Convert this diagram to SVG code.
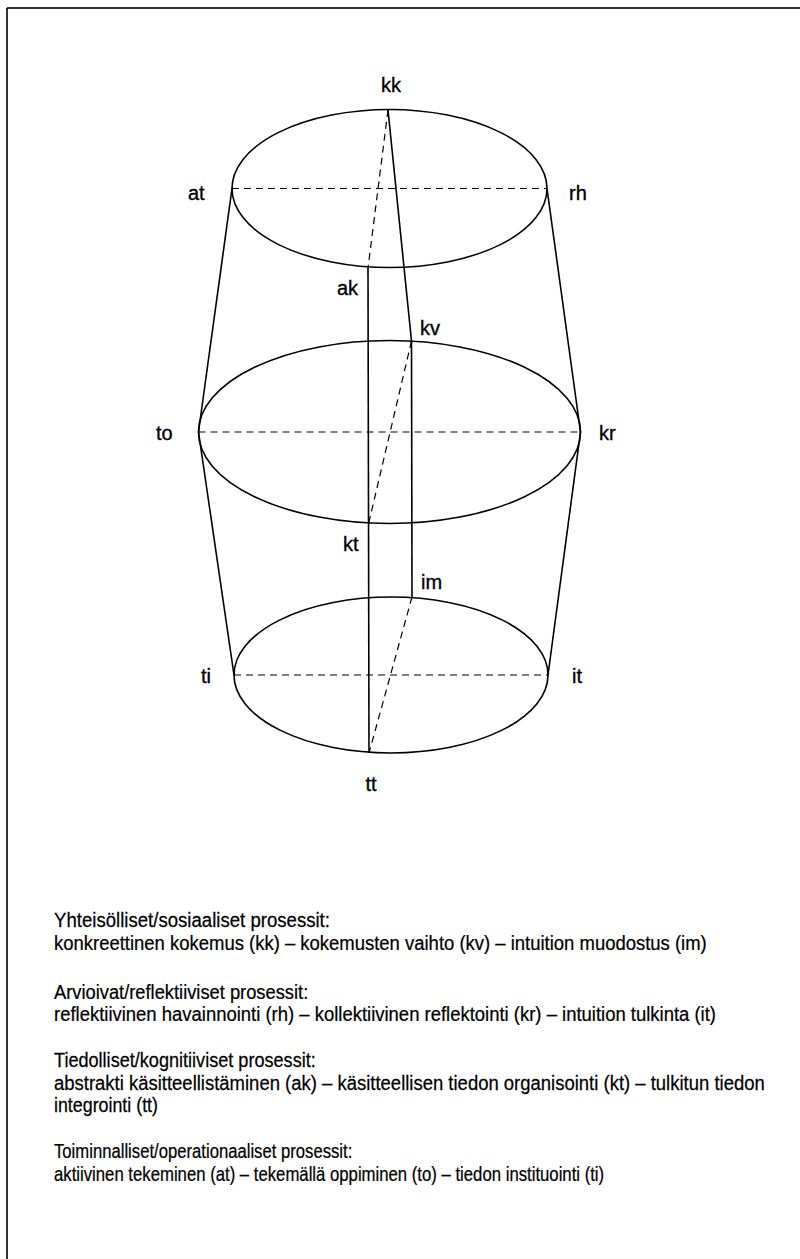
<svg xmlns="http://www.w3.org/2000/svg" width="800" height="1259" viewBox="0 0 800 1259">
<style>
.ln{fill:none;stroke:#000;stroke-width:1.6}
.ds{fill:none;stroke:#000;stroke-width:1.2;stroke-dasharray:7 5}
.lb{font-family:"Liberation Sans",Arial,sans-serif;font-size:20px;fill:#000;stroke:#000;stroke-width:0.35}
.lg{font-family:"Liberation Sans",Arial,sans-serif;font-size:21px;fill:#000;stroke:#000;stroke-width:0.25}
</style>
<rect width="800" height="1259" fill="#fff"/>
<g id="frame">
<line x1="7" y1="8" x2="800" y2="8" stroke="#333" stroke-width="1.8"/>
<line x1="7" y1="8" x2="7" y2="1259" stroke="#000" stroke-width="1.6"/>
</g>
<g id="ellipses">
<ellipse id="top" class="ln" cx="389.5" cy="188.5" rx="157.5" ry="79"/>
<ellipse id="middle" class="ln" cx="389.5" cy="432" rx="191" ry="91.5"/>
<ellipse id="bottom" class="ln" cx="391" cy="675" rx="157" ry="78"/>
</g>
<g id="connectors">
<line class="ln" x1="232" y1="188.5" x2="198.5" y2="432"/>
<line class="ln" x1="198.5" y1="432" x2="234" y2="675"/>
<line class="ln" x1="547" y1="188.5" x2="580.5" y2="432"/>
<line class="ln" x1="580.5" y1="432" x2="548" y2="675"/>
<line class="ln" x1="388" y1="110" x2="411.5" y2="341"/>
<line class="ln" x1="368" y1="268" x2="369" y2="753"/>
<line class="ln" x1="411.5" y1="341" x2="412" y2="597"/>
<line class="ds" x1="232" y1="188.5" x2="547" y2="188.5"/>
<line class="ds" x1="198.5" y1="432" x2="580.5" y2="432"/>
<line class="ds" x1="234" y1="675" x2="548" y2="675"/>
<line class="ds" x1="388" y1="110" x2="368" y2="268"/>
<line class="ds" x1="411.5" y1="341" x2="368.5" y2="524"/>
<line class="ds" x1="412" y1="597" x2="369" y2="753"/>
</g>
<g id="node-kk"><text class="lb" x="391" y="92" text-anchor="middle">kk</text></g>
<g id="node-at"><text class="lb" x="188" y="200">at</text></g>
<g id="node-rh"><text class="lb" x="569" y="200">rh</text></g>
<g id="node-ak"><text class="lb" x="337" y="295">ak</text></g>
<g id="node-kv"><text class="lb" x="420" y="335">kv</text></g>
<g id="node-to"><text class="lb" x="156" y="440">to</text></g>
<g id="node-kr"><text class="lb" x="599" y="440">kr</text></g>
<g id="node-kt"><text class="lb" x="343" y="551">kt</text></g>
<g id="node-im"><text class="lb" x="421" y="589">im</text></g>
<g id="node-ti"><text class="lb" x="201" y="683">ti</text></g>
<g id="node-it"><text class="lb" x="572" y="683">it</text></g>
<g id="node-tt"><text class="lb" x="371" y="791" text-anchor="middle">tt</text></g>
<g id="legend">
<text class="lg" transform="translate(54,927) scale(0.886,1)">Yhteisölliset/sosiaaliset prosessit:</text>
<text class="lg" transform="translate(54,950) scale(0.880,1)">konkreettinen kokemus (kk) – kokemusten vaihto (kv) – intuition muodostus (im)</text>
<text class="lg" transform="translate(54,999) scale(0.872,1)">Arvioivat/reflektiiviset prosessit:</text>
<text class="lg" transform="translate(54,1021) scale(0.880,1)">reflektiivinen havainnointi (rh) – kollektiivinen reflektointi (kr) – intuition tulkinta (it)</text>
<text class="lg" transform="translate(54,1067) scale(0.862,1)">Tiedolliset/kognitiiviset prosessit:</text>
<text class="lg" transform="translate(54,1090) scale(0.881,1)">abstrakti käsitteellistäminen (ak) – käsitteellisen tiedon organisointi (kt) – tulkitun tiedon</text>
<text class="lg" transform="translate(54,1112) scale(0.849,1)">integrointi (tt)</text>
<text class="lg" transform="translate(54,1158) scale(0.794,1)">Toiminnalliset/operationaaliset prosessit:</text>
<text class="lg" transform="translate(54,1181) scale(0.797,1)">aktiivinen tekeminen (at) – tekemällä oppiminen (to) – tiedon instituointi (ti)</text>
</g>
</svg>
